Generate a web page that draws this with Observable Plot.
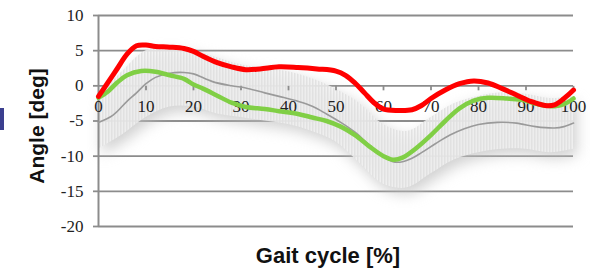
<!DOCTYPE html>
<html><head><meta charset="utf-8">
<script src="https://cdn.jsdelivr.net/npm/d3@7"></script>
<script src="https://cdn.jsdelivr.net/npm/@observablehq/plot@0.6"></script>
<style>
html,body{margin:0;padding:0;background:#fff;}
#chart{position:relative;width:590px;height:272px;overflow:hidden;}
#navy{position:absolute;left:0;top:108px;width:4px;height:22px;background:#3b3f8f;}
.serif text{font-family:"Liberation Serif","Times New Roman",serif;}
</style></head><body>
<div id="chart"><div id="navy"></div></div>
<script>
// Gait cycle [%] vs angle [deg]
const xTicks = [0,10,20,30,40,50,60,70,80,90,100];
const yTicks = [10,5,0,-5,-10,-15,-20];

const redSeries = [[0,-1.5],[2,0.5],[4,2.5],[6,4.5],[8,5.7],[10,5.8],[12,5.6],[15,5.5],[18,5.3],[20,4.9],[22,4.2],[25,3.3],[28,2.7],[31,2.3],[34,2.4],[38,2.7],[42,2.6],[46,2.4],[50,2.1],[52,1.5],[54,0.4],[56,-1.0],[58,-2.4],[60,-3.3],[63,-3.5],[66,-3.4],[68,-2.8],[70,-1.8],[73,-0.6],[76,0.3],[79,0.7],[82,0.4],[85,-0.4],[88,-1.3],[91,-2.2],[94,-2.8],[96,-2.7],[98,-1.8],[100,-0.6]];

const greenSeries = [[0,-1.7],[2,-0.8],[4,0.5],[6,1.5],[9,2.1],[12,2.0],[15,1.5],[18,1.0],[20,0.2],[22,-0.4],[25,-1.4],[28,-2.4],[31,-3.0],[35,-3.3],[38,-3.6],[42,-4.0],[45,-4.5],[48,-5.0],[51,-5.8],[54,-7.0],[57,-8.6],[60,-10.0],[62,-10.5],[64,-10.2],[67,-8.8],[70,-7.0],[73,-5.0],[76,-3.2],[79,-2.1],[82,-1.7],[86,-1.8],[89,-2.0],[93,-2.7],[96,-2.9],[98,-2.6],[100,-1.8]];

const graySeries = [[0,-5.2],[3,-4.2],[6,-2.2],[8,-1.0],[10,0.3],[12,1.2],[15,1.8],[18,1.9],[20,1.7],[24,0.6],[28,0.0],[31,-0.3],[35,-1.0],[38,-1.5],[42,-2.2],[45,-2.9],[48,-4.0],[51,-5.2],[54,-6.6],[57,-8.4],[60,-10.0],[62,-10.8],[64,-10.8],[66,-10.3],[68,-9.5],[71,-8.2],[74,-7.0],[77,-6.1],[80,-5.5],[84,-5.2],[88,-5.3],[92,-5.8],[96,-6.0],[98,-5.8],[100,-5.3]];

const bandX     = [0,5,10,15,20,25,30,35,40,45,50,55,60,65,70,75,80,85,90,95,100];
const bandUpper = [-1.5,2.0,5.0,5.5,5.0,4.0,3.0,2.5,2.0,1.0,-0.5,-2.5,-5.5,-6.5,-4.5,-2.5,-1.5,-1.0,-1.2,-1.8,-1.5];
const bandLower = [-9.0,-7.0,-4.5,-3.0,-3.0,-4.0,-4.5,-5.0,-5.5,-6.5,-8.0,-11.0,-14.0,-14.5,-12.5,-10.5,-9.5,-9.0,-9.0,-9.5,-9.0];

const band = bandX.map((x,i) => ({x, lo: bandLower[i], hi: bandUpper[i]}));

const tickSymbol = {draw(ctx){ ctx.moveTo(0,0); ctx.lineTo(0,4.5); }};
const gridColor = "#8c8c8c";
const serif = "Liberation Serif";
const sans = "Liberation Sans";

const chart = Plot.plot({
  width: 590, height: 272,
  marginLeft: 98, marginRight: 17, marginTop: 15, marginBottom: 46,
  x: {domain: [0,100], axis: null},
  y: {domain: [-20,10]},
  style: {background: "white", overflow: "visible", fontFamily: "Liberation Serif, serif"},
  marks: [
    Plot.gridY(yTicks, {stroke: gridColor, strokeOpacity: 1, strokeWidth: 1.8}),
    Plot.areaY(band, {x: "x", y1: "lo", y2: "hi", fill: "#bdbdbd", fillOpacity: 0.7, curve: "catmull-rom", dx: 4, dy: 6}),
    Plot.areaY(band, {x: "x", y1: "lo", y2: "hi", fill: "url(#vstripe)", curve: "catmull-rom"}),
    Plot.ruleX([0], {y1: -20, y2: 10, stroke: gridColor, strokeWidth: 2}),
    Plot.axisY({ticks: yTicks, tickSize: 5, tickPadding: 10, tickFormat: d => String(d), stroke: gridColor, strokeWidth: 1.8, fontSize: 17, fontFamily: serif, fill: "#222", label: null, className: "serif"}),
    Plot.dot(xTicks.slice(1), {x: d => d, y: 0, symbol: tickSymbol, stroke: gridColor, strokeWidth: 1.8, r: 3}),
    Plot.text(xTicks, {x: d => d, y: 0, dy: 21, text: d => String(d), fontSize: 17, fontFamily: serif, fill: "#222"}),
    Plot.line(graySeries, {x: d => d[0], y: d => d[1], stroke: "#9a9a9a", strokeWidth: 1.6, curve: "catmull-rom"}),
    Plot.line(greenSeries, {x: d => d[0], y: d => d[1], stroke: "#80cf45", strokeWidth: 4.5, curve: "catmull-rom"}),
    Plot.line(redSeries, {x: d => d[0], y: d => d[1], stroke: "#ff0000", strokeWidth: 5, curve: "catmull-rom"}),
    Plot.text(["Angle [deg]"], {frameAnchor: "left", dx: -61, dy: 5, rotate: -90, textAnchor: "middle", fontSize: 21, fontWeight: "bold", fontFamily: sans, fill: "#111"}),
    Plot.text(["Gait cycle [%]"], {frameAnchor: "bottom", dx: -8, dy: 36, fontSize: 22, fontWeight: "bold", fontFamily: sans, fill: "#111"})
  ]
});

// pattern + blur for the band
const ns = "http://www.w3.org/2000/svg";
const defs = document.createElementNS(ns, "defs");
defs.innerHTML = '<pattern id="vstripe" width="3" height="4" patternUnits="userSpaceOnUse">' +
  '<rect width="3" height="4" fill="#f4f4f4" fill-opacity="0.8"/>' +
  '<rect width="1.5" height="4" fill="#e0e0e0" fill-opacity="0.9"/></pattern>';
chart.insertBefore(defs, chart.firstChild);
const areas = chart.querySelectorAll('g[aria-label="area"]');
if (areas[0]) areas[0].style.filter = "blur(7px)";

document.getElementById("chart").appendChild(chart);
</script>
</body></html>
